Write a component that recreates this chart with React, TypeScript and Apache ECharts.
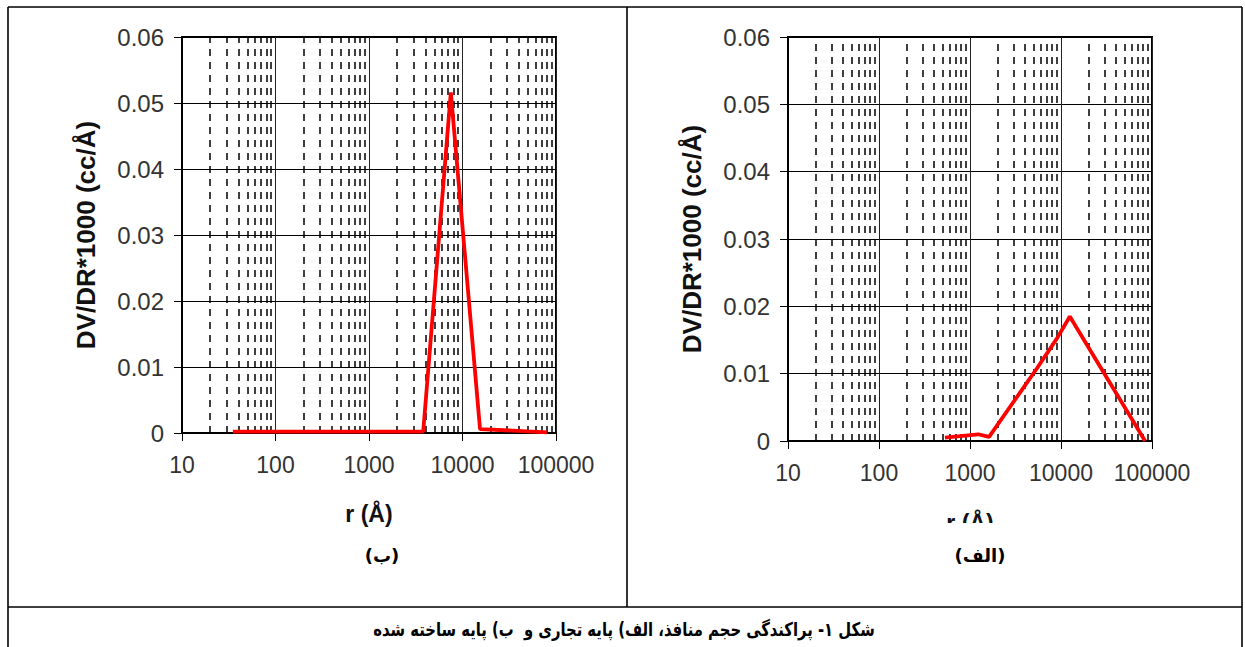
import React, { useEffect, useRef } from "react";
import * as echarts from "echarts";

// ---- data ----
const yTickValues = [0, 0.01, 0.02, 0.03, 0.04, 0.05, 0.06];
const xDecades = [10, 100, 1000, 10000];
const minorMultipliers = [2, 3, 4, 5, 6, 7, 8, 9];

// (ب) panel – left
const rB = [35, 3800, 7500, 15400, 80000];
const dvB = [0.0002, 0.0002, 0.0516, 0.0006, 0.0001];

// (الف) panel – right
const rA = [530, 1230, 1620, 5450, 9000, 12500, 30000, 84000];
const dvA = [0.0005, 0.001, 0.0006, 0.0108, 0.0152, 0.0185, 0.01, 0.0];

const yTitle = "DV/DR*1000 (cc/Å)";
const xTitle = "r (Å)";
const captionB = "(ب)";
const captionA = "(الف)";
const figureCaption = "شکل ۱- پراکندگی حجم منافذ، الف) پایه تجاری و  ب) پایه ساخته شده";

const minorR = xDecades.flatMap((d) => minorMultipliers.map((m) => d * m));

const tickFont = "Arial, 'Liberation Sans', sans-serif";
const persianFont = "Tahoma, 'DejaVu Sans', sans-serif";

function xAxisFor(gridIndex: number, nameGap: number) {
  return {
    type: "log",
    logBase: 10,
    gridIndex,
    min: 10,
    max: 100000,
    name: xTitle,
    nameLocation: "middle",
    nameGap,
    nameTextStyle: { fontFamily: tickFont, fontWeight: "bold", fontSize: 23, color: "#111" },
    axisLine: { show: true, lineStyle: { color: "#000", width: 2 } },
    axisTick: { show: true, length: 8, lineStyle: { color: "#000", width: 1 } },
    axisLabel: {
      margin: 20,
      fontFamily: tickFont,
      fontSize: 23,
      color: "#333",
      formatter: (v: number) => String(Math.round(v)),
    },
    splitLine: { show: true, lineStyle: { color: "#222", width: 1 } },
    minorTick: { show: false },
  };
}

function yAxisFor(gridIndex: number, nameGap: number) {
  return {
    type: "value",
    gridIndex,
    min: yTickValues[0],
    max: yTickValues[yTickValues.length - 1],
    interval: 0.01,
    name: yTitle,
    nameLocation: "middle",
    nameRotate: 90,
    nameGap,
    nameTextStyle: { fontFamily: tickFont, fontWeight: "bold", fontSize: 26, color: "#111" },
    axisLine: { show: true, lineStyle: { color: "#000", width: 2 } },
    axisTick: { show: true, length: 8, lineStyle: { color: "#000", width: 1 } },
    axisLabel: {
      margin: 18,
      fontFamily: tickFont,
      fontSize: 24,
      color: "#333",
      formatter: (v: number) => (v === 0 ? "0" : v.toFixed(2)),
    },
    splitLine: { show: true, lineStyle: { color: "#000", width: 1 } },
  };
}

function gridSeries(xi: number, r: number[], dv: number[]) {
  return [
    {
      type: "line",
      xAxisIndex: xi,
      yAxisIndex: xi,
      data: [[10, 0]],
      showSymbol: false,
      lineStyle: { width: 0, opacity: 0 },
      z: 1,
      silent: true,
      markLine: {
        silent: true,
        symbol: ["none", "none"],
        label: { show: false },
        lineStyle: { type: [7, 6], color: "#000", width: 1.5 },
        emphasis: { disabled: true },
        data: minorR.map((v) => ({ xAxis: v })),
      },
    },
    {
      type: "line",
      xAxisIndex: xi,
      yAxisIndex: xi,
      data: r.map((v, i) => [v, dv[i]]),
      showSymbol: false,
      symbol: "none",
      lineStyle: { color: "#ff0000", width: 3.8 },
      z: 5,
    },
  ];
}

export default function App() {
  const ref = useRef<HTMLDivElement>(null);

  useEffect(() => {
    document.body.style.margin = "0";
    if (!ref.current) return;
    const chart = echarts.init(ref.current, null, { renderer: "svg" });

    const tableLine = (x1: number, y1: number, x2: number, y2: number) => ({
      type: "line",
      shape: { x1, y1, x2, y2 },
      style: { stroke: "#000", lineWidth: 1.6 },
      z: 10,
    });

    chart.setOption({
      animation: false,
      backgroundColor: "#fff",
      grid: [
        { left: 182, top: 37, width: 374, height: 396, show: true, borderColor: "#000", borderWidth: 2 },
        { left: 788, top: 37, width: 364, height: 404, show: true, borderColor: "#000", borderWidth: 2 },
      ],
      xAxis: [xAxisFor(0, 69), xAxisFor(1, 70)],
      yAxis: [yAxisFor(0, 83), yAxisFor(1, 83)],
      series: [...gridSeries(0, rB, dvB), ...gridSeries(1, rA, dvA)],
      graphic: [
        // clip the lower part of the right x-axis title, as in the source figure
        { type: "rect", shape: { x: 880, y: 523, width: 200, height: 20 }, style: { fill: "#fff" }, z: 100 },
        tableLine(8, 7, 1242, 7),
        tableLine(8, 7, 8, 647),
        tableLine(1242, 7, 1242, 647),
        tableLine(627, 7, 627, 607),
        tableLine(8, 607, 1242, 607),
        {
          type: "text",
          x: 382,
          y: 555,
          style: { text: captionB, font: `bold 18px ${persianFont}`, fill: "#000", align: "center", verticalAlign: "middle" },
          z: 10,
        },
        {
          type: "text",
          x: 980,
          y: 555,
          style: { text: captionA, font: `bold 18px ${persianFont}`, fill: "#000", align: "center", verticalAlign: "middle" },
          z: 10,
        },
        {
          type: "text",
          x: 624,
          y: 629,
          scaleX: 0.78,
          style: { text: figureCaption, font: `bold 19px ${persianFont}`, fill: "#000", align: "center", verticalAlign: "middle" },
          z: 10,
        },
      ],
    });

    return () => chart.dispose();
  }, []);

  return <div ref={ref} style={{ width: 1245, height: 647 }} />;
}
